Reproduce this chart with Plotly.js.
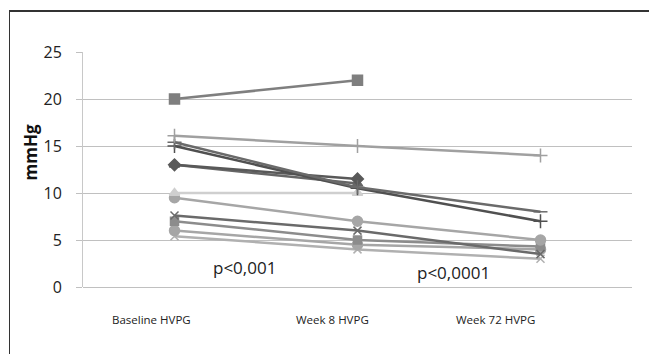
<!DOCTYPE html>
<html>
<head>
<meta charset="utf-8">
<script src="https://cdn.plot.ly/plotly-3.0.1.min.js"></script>
<style>
html,body{margin:0;padding:0;background:#fff;}
#frame{position:absolute;left:9px;top:10px;width:660px;height:360px;border-left:1px solid #333;border-top:2px solid #333;box-sizing:border-box;}
#chart{position:absolute;left:0;top:0;width:649px;height:354px;}
</style>
</head>
<body>
<div id="frame"></div>
<div id="chart"></div>
<script>
var categories = ["Baseline HVPG", "Week 8 HVPG", "Week 72 HVPG"];
var yTicks = [0, 5, 10, 15, 20, 25];

var p1 = [20, 22, null];
var p2 = [16.1, 15.0, 14.0];
var p3 = [15.4, 10.6, 8.0];
var p4 = [15.0, 10.5, 7.0];
var p5 = [13.0, 11.5, null];
var p6 = [13.0, 11.0, null];
var p7 = [10.0, 10.0, null];
var p8 = [9.5, 7.0, 5.0];
var p9 = [7.6, 6.0, 3.5];
var p10 = [7.0, 5.0, 4.3];
var p11 = [6.0, 4.5, 4.0];
var p12 = [5.4, 4.0, 3.0];

var pText1 = "p<0,001";
var pText2 = "p<0,0001";

// label positions (paper fractions) for category labels, as drawn in the original
var labelX = [0.1248, 0.4545, 0.7505];

function tr(y, color, symbol, size, endSymbol){
  var sym = symbol;
  if (endSymbol) sym = [symbol, symbol, endSymbol];
  return {
    x: categories, y: y, type: "scatter", mode: "lines+markers",
    line: {color: color, width: 2.5},
    marker: {color: color, symbol: sym, size: size, line: {color: color, width: 1.5}},
    connectgaps: false, showlegend: false, hoverinfo: "skip"
  };
}

var data = [
  tr(p12, "#b0b0b0", "x-thin", 8),
  tr(p11, "#a6a6a6", "circle", 10),
  tr(p10, "#8c8c8c", "square", 8),
  tr(p9, "#6a6a6a", "x-thin", 8),
  tr(p8, "#a6a6a6", "circle", 10),
  tr(p7, "#cfcfcf", "triangle-up", 9),
  tr(p6, "#666666", "triangle-up", 9),
  tr(p5, "#595959", "diamond", 9),
  tr(p4, "#505050", "cross-thin", 10),
  tr(p3, "#6a6a6a", "cross-thin", 10, "line-ew"),
  tr(p2, "#a0a0a0", "cross-thin", 10),
  tr(p1, "#7f7f7f", "square", 10)
];

var annotations = [
  {text: "<b>mmHg</b>", textangle: -90, xref: "paper", x: -0.095, xanchor: "center",
   yref: "y", y: 14.3, yanchor: "middle", showarrow: false,
   font: {family: "'Open Sans', sans-serif", size: 17, color: "#111"}},
  {text: pText1, xref: "paper", x: 0.295, xanchor: "center", yref: "y", y: 2.1, yanchor: "middle",
   showarrow: false, font: {size: 17, color: "#222"}},
  {text: pText2, xref: "paper", x: 0.675, xanchor: "center", yref: "y", y: 1.5, yanchor: "middle",
   showarrow: false, font: {size: 17, color: "#222"}}
];
categories.forEach(function(c, i){
  annotations.push({text: c, xref: "paper", x: labelX[i], xanchor: "center",
    yref: "paper", y: -0.14, yanchor: "middle", showarrow: false,
    font: {size: 11.5, color: "#222"}});
});

var layout = {
  width: 649, height: 354,
  margin: {l: 83, r: 17, t: 52, b: 67},
  paper_bgcolor: "rgba(0,0,0,0)",
  plot_bgcolor: "rgba(0,0,0,0)",
  font: {family: "'Open Sans', sans-serif", color: "#222"},
  xaxis: {
    type: "category", range: [-0.5, 2.5],
    showgrid: false, zeroline: false, showline: false, ticks: "",
    showticklabels: false
  },
  yaxis: {
    range: [0, 25], tickvals: yTicks, ticktext: yTicks.map(String),
    showgrid: true, gridcolor: "#c0c0c0", gridwidth: 1,
    zeroline: true, zerolinecolor: "#c0c0c0", zerolinewidth: 1,
    showline: true, linecolor: "#c8c8c8", linewidth: 1,
    ticks: "outside", ticklen: 6, tickcolor: "#c0c0c0",
    tickfont: {size: 16, color: "#222"},
    ticklabelstandoff: 11
  },
  annotations: annotations
};

Plotly.newPlot("chart", data, layout, {displayModeBar: false, staticPlot: true});
</script>
</body>
</html>
